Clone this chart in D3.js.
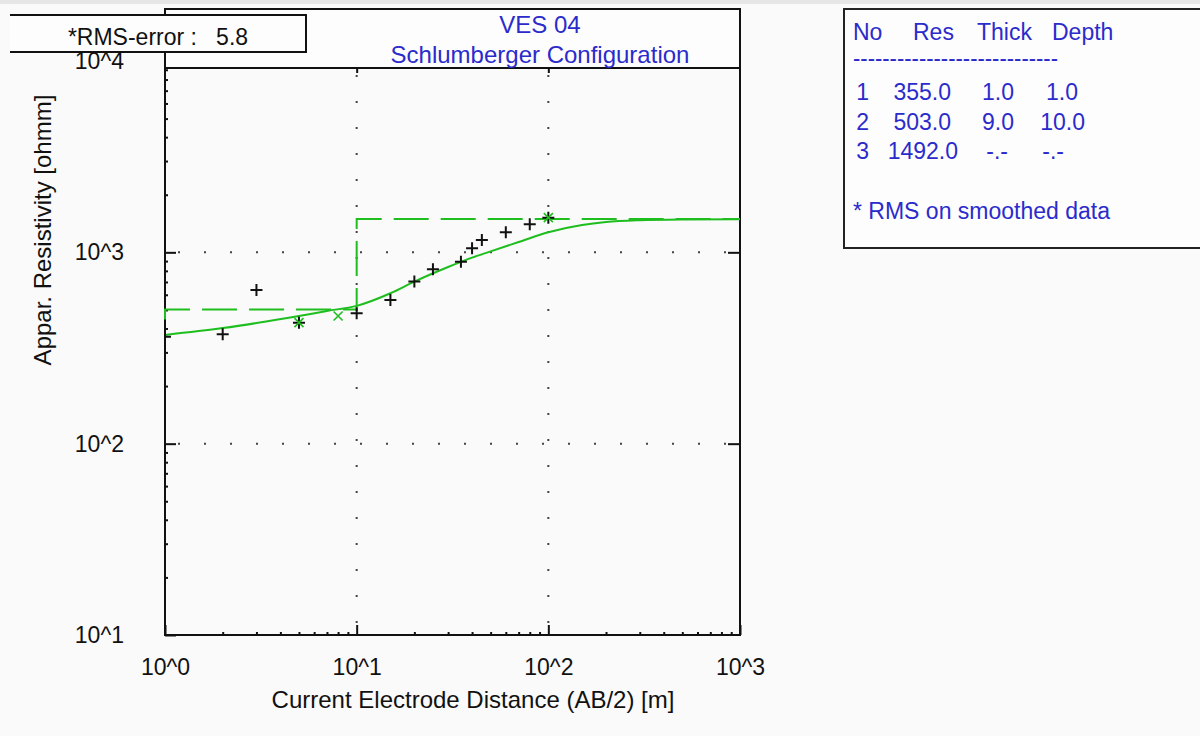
<!DOCTYPE html>
<html>
<head>
<meta charset="utf-8">
<script src="https://cdn.jsdelivr.net/npm/d3@7"></script>
<style>
body { margin: 0; background: #fafafa; }
text { font-family: "Liberation Sans", Arial, sans-serif; }
</style>
</head>
<body>
<div id="ves_chart"></div>
<script>
// measured data (AB/2 in m, apparent resistivity in ohmm)
var abRaw  = [1, 2, 3, 5, 10, 15, 20, 25, 35, 40, 45, 60, 80, 100];
var rhoRaw = [362, 373, 636, 429, 481, 564, 703, 817, 894, 1050, 1161, 1274, 1403, 1518];

// smoothed points shown in green
var abSmooth  = [5, 8, 100];
var rhoSmooth = [429, 465, 1518];

// calculated model curve
var abModel  = [1, 2, 3, 5, 7, 10, 15, 20, 30, 40, 50, 70, 100, 150, 200, 300, 500, 1000];
var rhoModel = [370, 402, 427, 465, 494, 525, 611, 703, 838, 938, 1012, 1132, 1274, 1390, 1440, 1472, 1486, 1491];

// layered model
var layerNo    = ["1", "2", "3"];
var layerRes   = [355.0, 503.0, 1492.0];
var layerThick = [1.0, 9.0, null];
var layerDepth = [1.0, 10.0, null];

var xTicks = [1, 10, 100, 1000];
var yTicks = [10, 100, 1000, 10000];
var rmsError = 5.8;

var green = "#1ebe1e", blue = "#2b2bcc";

var svg = d3.select("#ves_chart")
  .append("svg")
  .attr("width", 1200)
  .attr("height", 736);

svg.append("rect").attr("width", 1200).attr("height", 736).attr("fill", "#fafafa");
svg.append("rect").attr("width", 1200).attr("height", 4).attr("fill", "#e6e6e6");

// scales
var x = d3.scaleLog().domain([1, 1000]).range([165, 740]);
var y = d3.scaleLog().domain([10, 10000]).range([635, 61]);

var fmt = function(d) { return "10^" + Math.round(Math.log10(d)); };

// minor tick values
var xMinor = [], yMinor = [];
[1, 10, 100].forEach(function(b) { for (var k = 2; k < 10; k++) xMinor.push(b * k); });
[10, 100, 1000].forEach(function(b) { for (var k = 2; k < 10; k++) yMinor.push(b * k); });

// ---- grid (dotted) ----
svg.append("g").selectAll("line")
  .data([10, 100]).enter().append("line")
  .attr("x1", function(d) { return x(d); })
  .attr("x2", function(d) { return x(d); })
  .attr("y1", 635).attr("y2", 68)
  .attr("stroke", "#444").attr("stroke-width", 2)
  .attr("stroke-dasharray", "2,24").attr("stroke-dashoffset", -12);
svg.append("g").selectAll("line")
  .data([100, 1000]).enter().append("line")
  .attr("x1", 165).attr("x2", 740)
  .attr("y1", function(d) { return y(d); })
  .attr("y2", function(d) { return y(d); })
  .attr("stroke", "#444").attr("stroke-width", 2)
  .attr("stroke-dasharray", "2,24").attr("stroke-dashoffset", -13);

// ---- axes ----
function styleAxis(g) {
  g.select(".domain").remove();
  g.selectAll("line").attr("stroke", "#111").attr("stroke-width", 2);
  g.selectAll("text").attr("fill", "#111").style("font-size", "23px")
    .style("font-family", "'Liberation Sans', Arial, sans-serif");
}

svg.append("g").attr("transform", "translate(0,635)")
  .call(d3.axisBottom(x).tickValues(xMinor).tickSize(-3).tickFormat(""))
  .call(styleAxis);
svg.append("g").attr("transform", "translate(0,635)")
  .call(d3.axisBottom(x).tickValues(xTicks).tickSize(-10).tickPadding(24).tickFormat(fmt))
  .call(styleAxis);
svg.append("g").attr("transform", "translate(165,0)")
  .call(d3.axisLeft(y).tickValues(yMinor).tickSize(-3).tickFormat(""))
  .call(styleAxis);
svg.append("g").attr("transform", "translate(165,0)")
  .call(d3.axisLeft(y).tickValues(yTicks).tickSize(-11).tickPadding(41).tickFormat(fmt))
  .call(styleAxis);
svg.append("g").attr("transform", "translate(740,0)")
  .call(d3.axisRight(y).tickValues([100, 1000]).tickSize(-12).tickFormat(""))
  .call(styleAxis);
svg.append("g").attr("transform", "translate(0,68)")
  .call(d3.axisTop(x).tickValues([10, 100]).tickSize(-5).tickFormat(""))
  .call(styleAxis);

// frame
svg.append("rect")
  .attr("x", 165).attr("y", 61).attr("width", 575).attr("height", 574)
  .attr("fill", "none").attr("stroke", "#111").attr("stroke-width", 2);

// clip
svg.append("clipPath").attr("id", "plotclip")
  .append("rect").attr("x", 164).attr("y", 61).attr("width", 576).attr("height", 573);
var plot = svg.append("g").attr("clip-path", "url(#plotclip)");

// ---- layered model (dashed step) ----
var stepPts = [];
var layerTop = x.domain()[0];
layerRes.forEach(function(r, i) {
  var layerBottom = layerDepth[i] == null ? x.domain()[1] : Math.max(layerDepth[i], layerTop);
  stepPts.push([layerTop, r]);
  stepPts.push([layerBottom, r]);
  layerTop = layerBottom;
});
plot.append("path")
  .datum(stepPts)
  .attr("d", d3.line().x(function(d) { return x(d[0]); }).y(function(d) { return y(d[1]); }))
  .attr("fill", "none").attr("stroke", green).attr("stroke-width", 2)
  .attr("stroke-dasharray", "35,12").attr("stroke-dashoffset", 28);

// ---- model curve ----
plot.append("path")
  .datum(abModel.map(function(a, i) { return [a, rhoModel[i]]; }))
  .attr("d", d3.line().curve(d3.curveMonotoneX)
    .x(function(d) { return x(d[0]); }).y(function(d) { return y(d[1]); }))
  .attr("fill", "none").attr("stroke", green).attr("stroke-width", 2);

// ---- measured points ----
plot.append("g").selectAll("path")
  .data(abRaw.map(function(a, i) { return [a, rhoRaw[i]]; }))
  .enter().append("path")
  .attr("transform", function(d) { return "translate(" + x(d[0]) + "," + y(d[1]) + ")"; })
  .attr("d", "M-6,0H6M0,-6V6")
  .attr("stroke", "#111").attr("stroke-width", 2);

plot.append("g").selectAll("path")
  .data(abSmooth.map(function(a, i) { return [a, rhoSmooth[i]]; }))
  .enter().append("path")
  .attr("transform", function(d) { return "translate(" + x(d[0]) + "," + y(d[1]) + ")"; })
  .attr("d", "M-4.5,-4.5L4.5,4.5M-4.5,4.5L4.5,-4.5")
  .attr("stroke", green).attr("stroke-width", 1.6);

// ---- axis titles ----
svg.append("text")
  .attr("x", 473).attr("y", 708)
  .attr("text-anchor", "middle")
  .style("font-size", "24px").attr("fill", "#111")
  .text("Current Electrode Distance (AB/2) [m]");
svg.append("text")
  .attr("transform", "translate(51,230) rotate(-90)")
  .attr("text-anchor", "middle")
  .style("font-size", "24px").attr("fill", "#111")
  .text("Appar. Resistivity [ohmm]");

// ---- title box ----
svg.append("rect")
  .attr("x", 165).attr("y", 9).attr("width", 575).attr("height", 59)
  .attr("fill", "#fdfdfd").attr("stroke", "#111").attr("stroke-width", 2);
svg.append("text")
  .attr("x", 540).attr("y", 33).attr("text-anchor", "middle")
  .style("font-size", "24px").attr("fill", blue)
  .text("VES 04");
svg.append("text")
  .attr("x", 540).attr("y", 63).attr("text-anchor", "middle")
  .style("font-size", "24px").attr("fill", blue)
  .text("Schlumberger Configuration");

// ---- RMS box ----
svg.append("rect")
  .attr("x", -10).attr("y", 15).attr("width", 316).attr("height", 37)
  .attr("fill", "#fdfdfd").attr("stroke", "#111").attr("stroke-width", 2);
svg.append("rect").attr("x", 0).attr("y", 4).attr("width", 10).attr("height", 60).attr("fill", "#fafafa");
svg.append("text")
  .attr("x", 158).attr("y", 45).attr("text-anchor", "middle")
  .style("font-size", "23px").attr("fill", "#111")
  .style("white-space", "pre")
  .text("*RMS-error :   " + rmsError.toFixed(1));

// ---- layer table ----
svg.append("rect")
  .attr("x", 844).attr("y", 9).attr("width", 400).attr("height", 239)
  .attr("fill", "#fdfdfd").attr("stroke", "#222").attr("stroke-width", 2);

var table = svg.append("g").style("font-size", "23px").attr("fill", blue);
var header = [["No", 853], ["Res", 913], ["Thick", 977], ["Depth", 1052]];
table.selectAll(".hdr").data(header).enter().append("text")
  .attr("class", "hdr")
  .attr("x", function(d) { return d[1]; }).attr("y", 40)
  .text(function(d) { return d[0]; });
table.append("text").attr("x", 853).attr("y", 66)
  .text("----------------------------")
  .attr("textLength", 205).attr("lengthAdjust", "spacingAndGlyphs");

// column right edges
var colNo = 869, colRes = 951, colThick = 1014, colDepth = 1078;
var fmtNum = function(v) { return v == null ? "-.-" : v.toFixed(1); };
layerNo.forEach(function(n, i) {
  var yy = 100 + i * 29.5;
  table.append("text").attr("x", colNo).attr("y", yy).attr("text-anchor", "end").text(n);
  table.append("text").attr("x", colRes + (i == 2 ? 7 : 0)).attr("y", yy).attr("text-anchor", "end").text(fmtNum(layerRes[i]));
  table.append("text").attr("x", layerThick[i] == null ? colThick - 6 : colThick).attr("y", yy).attr("text-anchor", "end").text(fmtNum(layerThick[i]));
  table.append("text").attr("x", layerDepth[i] == null ? colDepth - 14 : colDepth + (i == 1 ? 7 : 0)).attr("y", yy).attr("text-anchor", "end").text(fmtNum(layerDepth[i]));
});
table.append("text").attr("x", 853).attr("y", 219)
  .text("* RMS on smoothed data");
</script>
</body>
</html>
